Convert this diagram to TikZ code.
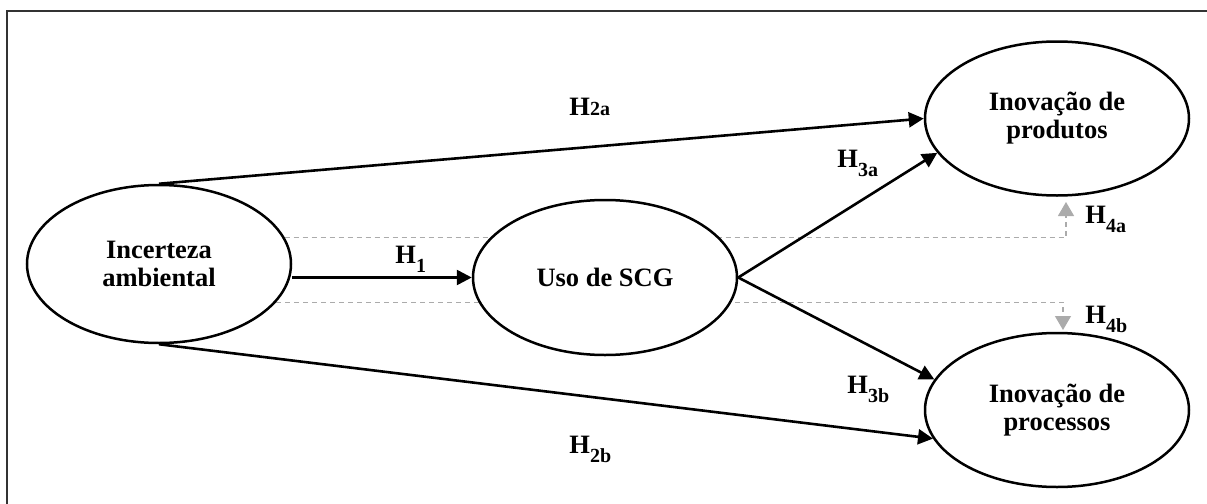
\documentclass[tikz,border=0pt]{standalone}
\usepackage{fontspec}
\setmainfont{Liberation Serif}
\usetikzlibrary{shapes.geometric,arrows.meta,backgrounds}
\newcommand{\hlow}[1]{H\raisebox{-4.5pt}{\fontsize{10}{10}\selectfont #1}}
\newcommand{\hflat}[1]{H{\fontsize{10}{10}\selectfont #1}}
\tikzset{
  construct/.style={ellipse, draw, line width=1.25pt, fill=white, inner sep=0pt,
    minimum width=132pt, minimum height=77pt, align=center,
    font=\bfseries\fontsize{13.25}{14}\selectfont},
  mainarrow/.style={line width=1.3pt, -{Triangle[length=7.5pt,width=7.5pt]}},
  modarrow/.style={line width=0.6pt, color=black!33, dash pattern=on 2.5pt off 2pt,
    -{Triangle[length=7pt,width=8pt]}},
  hlabel/.style={anchor=base west, inner sep=0pt, font=\bfseries\fontsize{13.25}{14}\selectfont},
  frameline/.style={line width=1.2pt, color=black!80}
}
\begin{document}
\begin{tikzpicture}[x=0.5pt,y=-0.5pt]
\useasboundingbox (0,0) rectangle (1207,504);
\draw[frameline] (7,504) -- (7,11) -- (1207,11);

\node[construct, minimum height=79pt] (inc) at (159,264) {Incerteza\\ambiental};
\node[construct, minimum height=77.5pt] (uso) at (605,277.5) {Uso de SCG};
\node[construct] (prod) at (1057,118.5) {Inovação de\\produtos};
\node[construct] (proc) at (1057,410) {Inovação de\\processos};

\coordinate (t4a) at (1066,202);
\coordinate (t4b) at (1063,330);

\begin{scope}[on background layer]
\draw[modarrow] (inc.12) -| (t4a);
\draw[modarrow] (inc.-18) -| (t4b);
\end{scope}

\draw[mainarrow] (inc.north) -- (prod.west);
\draw[mainarrow] (inc.south) -- (proc.193);
\draw[mainarrow] (uso.west -| inc.east) -- (uso.west);
\draw[mainarrow] (uso.east) -- (prod.196);
\draw[mainarrow] (uso.east) -- (proc.166);

\node[hlabel] (h2a) at (569,115) {\hflat{2a}};
\node[hlabel] (h2b) at (569,453) {\hlow{2b}};
\node[hlabel] (h1) at (395,263) {\hlow{1}};
\node[hlabel] (h3a) at (837,167) {\hlow{3a}};
\node[hlabel] (h3b) at (847,393) {\hlow{3b}};
\node[hlabel] (h4a) at (1085,223) {\hlow{4a}};
\node[hlabel] (h4b) at (1085,323) {\hlow{4b}};
\end{tikzpicture}
\end{document}
